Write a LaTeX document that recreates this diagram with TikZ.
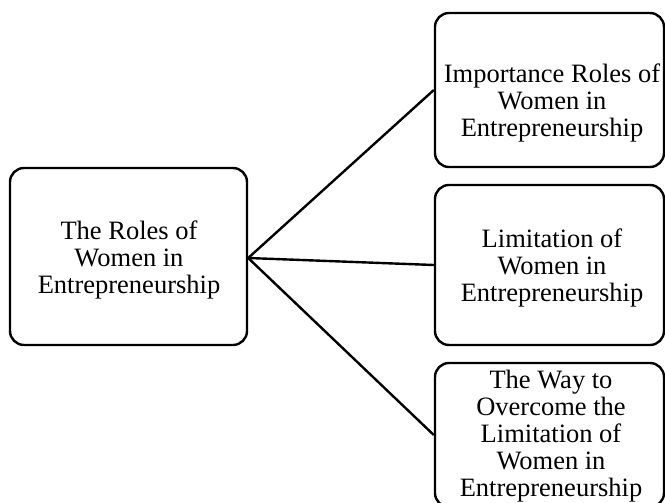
\documentclass[tikz,border=0pt]{standalone}
\usepackage{fontspec}
\setmainfont{Liberation Serif}
\begin{document}
\begin{tikzpicture}[x=1pt,y=-1pt,
  box/.style={draw=black, line width=2.4pt, rounded corners=14pt, inner sep=0pt},
  lbl/.style={align=center, inner sep=0pt, font=\fontsize{26.5}{27}\selectfont},
  conn/.style={draw=black, line width=2.4pt}]
\useasboundingbox[fill=white] (0,0) rectangle (665,503);
% boxes
\node[box, minimum width=237pt, minimum height=177pt] (root) at (128.5,256.5) {};
\node[box, minimum width=229pt, minimum height=154pt] (A) at (549.5,90) {};
\node[box, minimum width=229pt, minimum height=160pt] (B) at (549.5,265) {};
\node[box, minimum width=229pt, minimum height=144pt] (C) at (549.5,435) {};
% texts
\node[lbl] (troot) at (129,260) {The Roles of\\Women in\\Entrepreneurship};
\node[lbl] (tA) at (552,103) {Importance Roles of\\Women in\\Entrepreneurship};
\node[lbl] (tB) at (552,268) {Limitation of\\Women in\\Entrepreneurship};
\node[lbl] (tC) at (551,436) {The Way to\\Overcome the\\Limitation of\\Women in\\Entrepreneurship};
% connectors
\coordinate (hub) at ([yshift=-1.5pt]root.east);
\draw[conn] (hub) -- (A.west);
\draw[conn] (hub) -- (B.west);
\draw[conn] (hub) -- (C.west);
\end{tikzpicture}
\end{document}
